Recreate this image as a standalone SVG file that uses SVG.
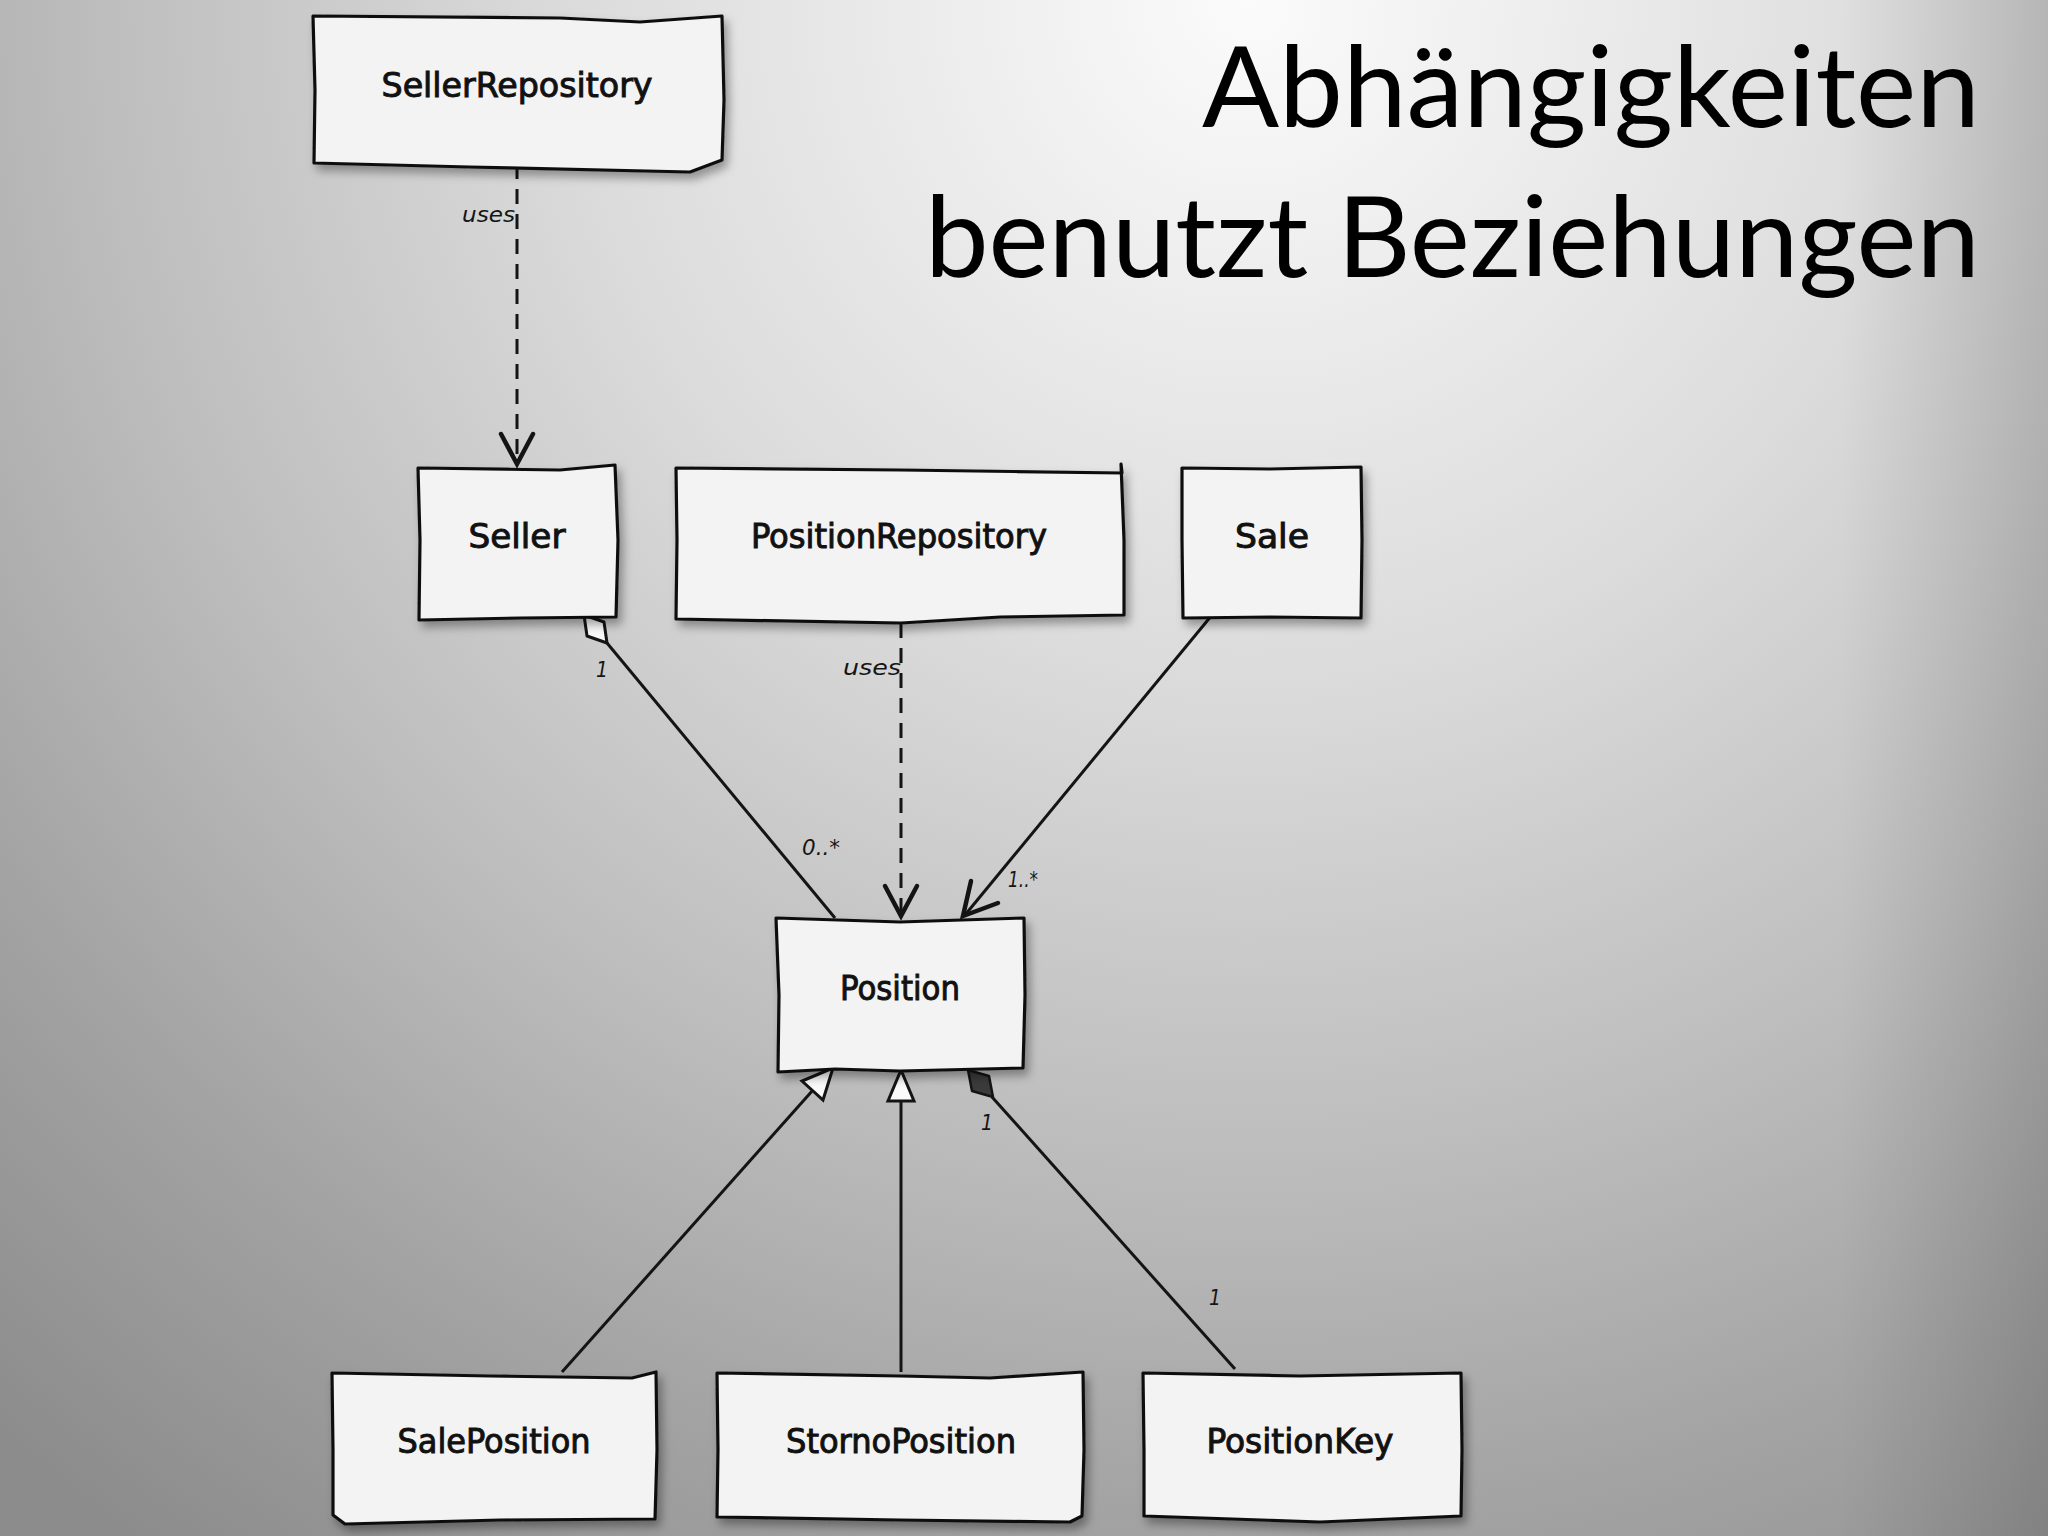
<svg xmlns="http://www.w3.org/2000/svg" width="2048" height="1536" viewBox="0 0 2048 1536">
<defs>
<radialGradient id="bg" gradientUnits="userSpaceOnUse" cx="1250" cy="0" r="1900">
<stop offset="0" stop-color="#fbfbfb"/>
<stop offset="0.35" stop-color="#dcdcdc"/>
<stop offset="0.6" stop-color="#bebebe"/>
<stop offset="0.8" stop-color="#a3a3a3"/>
<stop offset="1" stop-color="#8c8c8c"/>
</radialGradient>
<linearGradient id="edge" x1="0" y1="0" x2="1" y2="0">
<stop offset="0" stop-color="#000" stop-opacity="0"/>
<stop offset="1" stop-color="#000" stop-opacity="0.14"/>
</linearGradient>
<filter id="sh" x="-10%" y="-10%" width="125%" height="130%">
<feDropShadow dx="4" dy="6" stdDeviation="5" flood-color="#000" flood-opacity="0.35"/>
</filter>
<style>
.box{fill:#f3f3f3;stroke:#111;stroke-width:3.2;stroke-linejoin:round;filter:url(#sh)}
.lbl{font-family:"Liberation Sans Narrow","DejaVu Sans Condensed","Noto Sans",sans-serif;font-size:34px;fill:#111;stroke:#111;stroke-width:0.9;text-anchor:middle}
.sm{font-family:"Liberation Sans Narrow","DejaVu Sans Condensed","Noto Sans",sans-serif;font-size:21px;fill:#151515;font-style:italic}
.ln{fill:none;stroke:#141414;stroke-width:3}
.dash{fill:none;stroke:#141414;stroke-width:3;stroke-dasharray:15 10}
.arr{fill:none;stroke:#141414;stroke-width:4.5;stroke-linejoin:miter;stroke-linecap:round}
.title{font-family:Lato,"Open Sans","Noto Sans",sans-serif;font-size:112px;fill:#000;text-anchor:end}
</style>
</defs>
<rect width="2048" height="1536" fill="url(#bg)"/>
<rect x="1840" y="0" width="208" height="1536" fill="url(#edge)"/>

<g id="title">
<text class="title" x="1980" y="127" textLength="778" lengthAdjust="spacingAndGlyphs">Abhängigkeiten</text>
<text class="title" x="1980" y="277" textLength="1055" lengthAdjust="spacingAndGlyphs">benutzt Beziehungen</text>
</g>

<g id="connectors">
<!-- SellerRepository -> Seller -->
<line class="dash" x1="517" y1="164" x2="517" y2="462"/>
<polyline class="arr" points="501,434 517,464 533,434"/>
<text class="sm" x="515" y="222" text-anchor="end" textLength="53" lengthAdjust="spacingAndGlyphs">uses</text>
<!-- PositionRepository -> Position -->
<line class="dash" x1="901" y1="623" x2="901" y2="914"/>
<polyline class="arr" points="885,886 901,916 917,886"/>
<text class="sm" x="901" y="675" text-anchor="end" textLength="58" lengthAdjust="spacingAndGlyphs">uses</text>
<!-- Seller <>- Position -->
<line class="ln" x1="607" y1="643" x2="835" y2="918"/>
<polygon points="584,615 604,622 607,643 587,636" fill="#f7f7f7" stroke="#141414" stroke-width="3" stroke-linejoin="round"/>
<text class="sm" x="602" y="677" text-anchor="middle">1</text>
<text class="sm" x="802" y="855" textLength="38" lengthAdjust="spacingAndGlyphs">0..*</text>
<!-- Sale -> Position -->
<line class="ln" x1="1212" y1="615" x2="965" y2="915"/>
<polyline class="arr" points="971,881 963,916 998,903"/>
<text class="sm" x="1008" y="887" textLength="30" lengthAdjust="spacingAndGlyphs">1..*</text>
<!-- SalePosition -|> Position -->
<line class="ln" x1="562" y1="1372" x2="813" y2="1090"/>
<polygon points="833,1068 823,1100 802,1081" fill="#fafafa" stroke="#141414" stroke-width="3" stroke-linejoin="miter"/>
<!-- StornoPosition -|> Position -->
<line class="ln" x1="901" y1="1372" x2="901" y2="1101"/>
<polygon points="901,1070 914,1101 888,1101" fill="#fafafa" stroke="#141414" stroke-width="3" stroke-linejoin="miter"/>
<!-- Position <#>- PositionKey -->
<line class="ln" x1="992" y1="1097" x2="1235" y2="1369"/>
<polygon points="968,1070 989,1076 993,1097 972,1091" fill="#3a3a3a" stroke="#141414" stroke-width="2.5" stroke-linejoin="round"/>
<text class="sm" x="987" y="1130" text-anchor="middle">1</text>
<text class="sm" x="1215" y="1305" text-anchor="middle">1</text>
</g>

<g id="SellerRepository">
<path class="box" d="M313,16 L560,18 L640,22 L722,16 L724,100 L722,160 L690,172 L470,167 L314,163 L315,90 Z"/>
<text class="lbl" x="517" y="97" textLength="271" lengthAdjust="spacingAndGlyphs">SellerRepository</text>
</g>

<g id="Seller">
<path class="box" d="M418,468 L560,470 L615,465 L618,540 L616,617 L520,618 L419,620 L420,540 Z"/>
<text class="lbl" x="517" y="548" textLength="97" lengthAdjust="spacingAndGlyphs">Seller</text>
</g>

<g id="PositionRepository">
<path class="box" d="M676,468 L900,470 L1122,473 L1121,464 L1124,540 L1124,615 L1000,617 L901,623 L676,619 L677,540 Z"/>
<text class="lbl" x="899" y="548" textLength="296" lengthAdjust="spacingAndGlyphs">PositionRepository</text>
</g>

<g id="Sale">
<path class="box" d="M1182,468 L1270,469 L1361,467 L1362,540 L1361,618 L1270,617 L1183,618 L1182,540 Z"/>
<text class="lbl" x="1272" y="548" textLength="74" lengthAdjust="spacingAndGlyphs">Sale</text>
</g>

<g id="Position">
<path class="box" d="M776,918 L900,922 L1024,918 L1025,995 L1023,1068 L900,1071 L835,1069 L778,1072 L779,995 Z"/>
<text class="lbl" x="900" y="1000" textLength="120" lengthAdjust="spacingAndGlyphs">Position</text>
</g>

<g id="SalePosition">
<path class="box" d="M332,1373 L490,1376 L632,1378 L656,1372 L657,1450 L655,1519 L500,1520 L345,1524 L333,1515 L333,1450 Z"/>
<text class="lbl" x="494" y="1453" textLength="193" lengthAdjust="spacingAndGlyphs">SalePosition</text>
</g>

<g id="StornoPosition">
<path class="box" d="M717,1373 L900,1376 L990,1378 L1083,1372 L1084,1450 L1082,1516 L1070,1522 L900,1520 L717,1517 L718,1450 Z"/>
<text class="lbl" x="901" y="1453" textLength="230" lengthAdjust="spacingAndGlyphs">StornoPosition</text>
</g>

<g id="PositionKey">
<path class="box" d="M1143,1373 L1300,1376 L1461,1373 L1462,1450 L1461,1516 L1320,1522 L1144,1516 L1144,1450 Z"/>
<text class="lbl" x="1300" y="1453" textLength="187" lengthAdjust="spacingAndGlyphs">PositionKey</text>
</g>
</svg>
